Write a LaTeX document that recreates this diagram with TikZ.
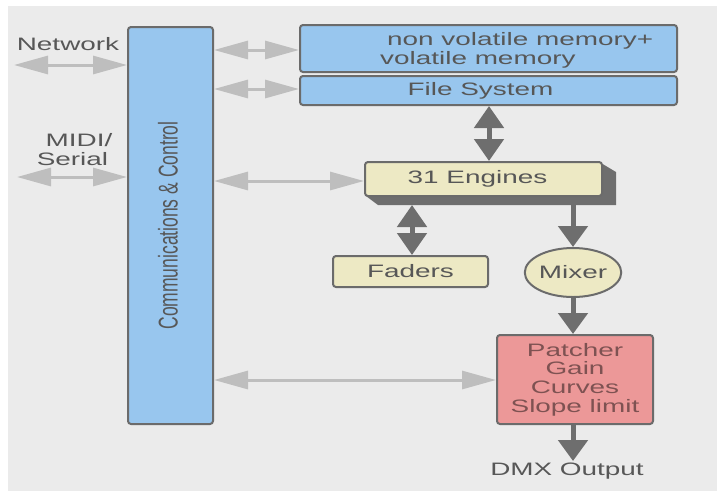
\documentclass[tikz,border=0pt]{standalone}
\usepackage{fontspec}
\usepackage{graphicx}
\setmainfont{Liberation Sans}
\usetikzlibrary{arrows.meta,shapes.geometric}

\definecolor{bgcol}{HTML}{EBEBEB}
\definecolor{bluefill}{HTML}{98C6EE}
\definecolor{beigefill}{HTML}{EDE9C4}
\definecolor{pinkfill}{HTML}{EC9898}
\definecolor{edgecol}{HTML}{6B6B6B}
\definecolor{lightarr}{HTML}{BEBEBE}
\definecolor{darkarr}{HTML}{6E6E6E}
\definecolor{txtcol}{HTML}{575757}
\definecolor{redtxt}{HTML}{7E5252}

% horizontally widened lettering
\newcommand{\wide}[1]{\scalebox{1.55}[1]{#1}}

\tikzset{
  box/.style={draw=edgecol, line width=2pt, rounded corners=3pt, inner sep=0pt,
    text=txtcol, font=\fontsize{18}{19}\selectfont, align=center},
  lbl/.style={text=txtcol, font=\fontsize{18}{19}\selectfont, inner sep=0pt, align=center},
  lightlink/.style={draw=lightarr, line width=3pt,
    arrows={Triangle[length=34pt,width=18pt]-Triangle[length=34pt,width=18pt]}},
  darkboth/.style={draw=darkarr, line width=5pt,
    arrows={Triangle[length=22pt,width=29pt]-Triangle[length=22pt,width=29pt]}},
  darkone/.style={draw=darkarr, line width=5pt,
    arrows={-Triangle[length=21pt,width=29pt]}},
}

\begin{document}
\begin{tikzpicture}[x=1pt,y=-1pt]
  \useasboundingbox (0,0) rectangle (717,491);
  \fill[white] (0,0) rectangle (717,491);
  \fill[bgcol] (8,6) rectangle (717,491);

  % blocks
  \node[box, fill=bluefill, minimum width=85pt, minimum height=397pt] (comm) at (170.5,225.5)
    {\fontsize{17.5}{18}\selectfont\wide{\rotatebox{90}{Communications \& Control}}\hspace*{5pt}};
  \node[box, fill=bluefill, minimum width=377pt, minimum height=47pt] (mem) at (488.5,48.5) {};
  \node[lbl, anchor=west, align=left] (memtxt) at (380,50.5)
    {\wide{\hspace*{4.5pt}non volatile memory+}\\ \wide{volatile memory}};
  \node[box, fill=bluefill, minimum width=377pt, minimum height=29pt] (fs) at (488.5,90.5)
    {\wide{File System}\hspace*{16pt}};

  % extruded side of the engines block
  \fill[darkarr] (601,163) -- (616,172) -- (616,205) -- (378,205) -- (366,196) -- (601,196) -- cycle;
  \node[box, fill=beigefill, minimum width=237pt, minimum height=34pt] (eng) at (483.5,179)
    {\wide{31 Engines}\hspace*{12pt}};
  \node[box, fill=beigefill, minimum width=155pt, minimum height=31pt] (fad) at (410.5,271.5)
    {\wide{Faders}};
  \node[box, ellipse, fill=beigefill, minimum width=85pt, minimum height=49pt] (mix) at (573,272.5)
    {\wide{Mixer}};
  \node[box, fill=pinkfill, text=redtxt, minimum width=156pt, minimum height=89pt] (pat) at (575,379.5)
    {\fontsize{18}{18.7}\selectfont\raisebox{-3pt}{\parbox{150pt}{\centering
      \wide{Patcher}\\\wide{Gain}\\\wide{Curves}\\\wide{Slope limit}}}};

  % external labels
  \node[lbl] (net) at (68,44) {\wide{Network}};
  \node[lbl] (midi) at (75,150)
    {\fontsize{18}{20}\selectfont\hspace*{8pt}\wide{MIDI/}\\\wide{Serial}\hspace*{5pt}};
  \node[lbl] (dmx) at (567,471) {\wide{DMX Output}};

  % free ends of the outside links
  \coordinate (netend) at (14,65);
  \coordinate (midiend) at (17,177);
  \coordinate (dmxend) at (573,461);

  % light links to the control block
  \draw[lightlink] (netend) -- (comm.west |- netend);
  \draw[lightlink] (midiend) -- (comm.west |- midiend);
  \draw[lightlink] (comm.east |- 0,50) -- (mem.west |- 0,50);
  \draw[lightlink] (comm.east |- 0,89) -- (fs.west |- 0,89);
  \draw[lightlink] (comm.east |- 0,181) -- (eng.west |- 0,181);
  \draw[lightlink] (comm.east |- 0,380) -- (pat.west |- 0,380);

  % data path
  \draw[darkboth] (fs.south -| 489,0) -- (eng.north -| 489,0);
  \draw[darkboth] (412,205) -- (fad.north -| 412,0);
  \draw[darkone] (573,205) -- (mix.north);
  \draw[darkone] (mix.south) -- (pat.north -| mix.south);
  \draw[darkone] (pat.south -| dmxend) -- (dmxend);
\end{tikzpicture}
\end{document}
